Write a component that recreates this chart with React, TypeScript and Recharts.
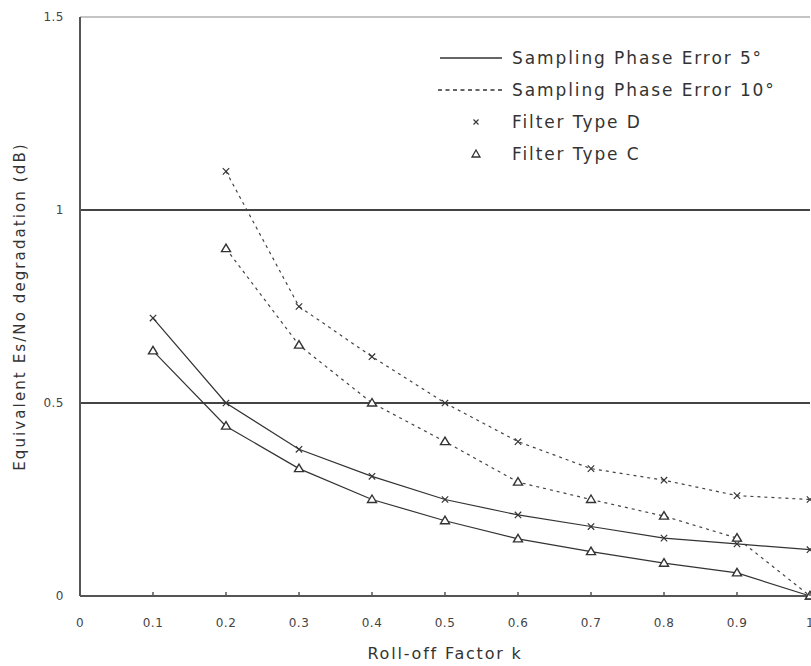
import React from 'react';
import { LineChart, Line, XAxis, YAxis, ReferenceLine, Legend } from 'recharts';

// Roll-off factor k (x values)
const rollOffFactors = [0.1, 0.2, 0.3, 0.4, 0.5, 0.6, 0.7, 0.8, 0.9, 1.0];
// Sampling phase error 5°, filter type D (solid, x markers)
const phaseErr5TypeD = [0.72, 0.5, 0.38, 0.31, 0.25, 0.21, 0.18, 0.15, 0.135, 0.12];
// Sampling phase error 5°, filter type C (solid, triangles)
const phaseErr5TypeC = [0.635, 0.44, 0.33, 0.25, 0.195, 0.148, 0.115, 0.085, 0.06, 0];
// Sampling phase error 10°, filter type D (dashed, x markers)
const phaseErr10TypeD = [null, 1.1, 0.75, 0.62, 0.5, 0.4, 0.33, 0.3, 0.26, 0.25];
// Sampling phase error 10°, filter type C (dashed, triangles)
const phaseErr10TypeC = [null, 0.9, 0.65, 0.5, 0.4, 0.295, 0.25, 0.207, 0.15, 0];

const xTicks = [0, 0.1, 0.2, 0.3, 0.4, 0.5, 0.6, 0.7, 0.8, 0.9, 1];
const yTicks = [0, 0.5, 1, 1.5];
const gridLevels = [0.5, 1];
const topLevel = 1.5;

const legendLabels = [
  'Sampling Phase Error 5°',
  'Sampling Phase Error 10°',
  'Filter Type D',
  'Filter Type C',
];

const data = rollOffFactors.map((k, i) => ({
  k,
  e5d: phaseErr5TypeD[i],
  e5c: phaseErr5TypeC[i],
  e10d: phaseErr10TypeD[i],
  e10c: phaseErr10TypeC[i],
}));

const INK = '#333';
const AXIS = '#555';
const FONT = '"DejaVu Sans", "Noto Sans", sans-serif';

function CrossDot(props: any) {
  const { cx, cy, index, dataKey } = props;
  const key = `${dataKey}-x-${index}`;
  if (cx == null || cy == null || Number.isNaN(cy)) return <g key={key} />;
  const s = 3.2;
  return (
    <path
      key={key}
      d={`M${cx - s},${cy - s}L${cx + s},${cy + s}M${cx - s},${cy + s}L${cx + s},${cy - s}`}
      stroke={INK}
      strokeWidth={1.2}
      fill="none"
    />
  );
}

function TriangleDot(props: any) {
  const { cx, cy, index, dataKey } = props;
  const key = `${dataKey}-t-${index}`;
  if (cx == null || cy == null || Number.isNaN(cy)) return <g key={key} />;
  return (
    <path
      key={key}
      d={`M${cx},${cy - 4.5}L${cx + 4.5},${cy + 3}L${cx - 4.5},${cy + 3}Z`}
      stroke={INK}
      strokeWidth={1.4}
      fill="#fff"
    />
  );
}

function XTick(props: any) {
  const { x, y, payload } = props;
  return (
    <g>
      <line x1={x} x2={x} y1={y} y2={y - 4} stroke={AXIS} strokeWidth={1.5} />
      <text
        x={x}
        y={y + 31}
        textAnchor="middle"
        fontSize={12}
        fill="#444"
        fontFamily={FONT}
        letterSpacing={0.5}
      >
        {String(payload.value)}
      </text>
    </g>
  );
}

function LegendContent() {
  const rows = legendLabels.map((label, i) => {
    let icon: React.ReactNode = null;
    if (i === 0) icon = <line x1={4} x2={66} y1={16} y2={16} stroke={INK} strokeWidth={1.3} />;
    if (i === 1)
      icon = (
        <line x1={2} x2={66} y1={16} y2={16} stroke={INK} strokeWidth={1.3} strokeDasharray="4 3.5" />
      );
    if (i === 2)
      icon = (
        <path d="M37.5,13.5L42.5,18.5M37.5,18.5L42.5,13.5" stroke={INK} strokeWidth={1.1} fill="none" />
      );
    if (i === 3) icon = <path d="M40,12L44,19L36,19Z" stroke={INK} strokeWidth={1.3} fill="#fff" />;
    return (
      <div key={label} style={{ display: 'flex', alignItems: 'center', height: 32 }}>
        <svg width={76} height={32} style={{ flex: 'none' }}>
          {icon}
        </svg>
        <span
          style={{
            fontFamily: FONT,
            fontSize: 17,
            letterSpacing: 1.9,
            color: '#333',
            whiteSpace: 'nowrap',
          }}
        >
          {label}
        </span>
      </div>
    );
  });
  return <div>{rows}</div>;
}

export default function App() {
  return (
    <div style={{ position: 'absolute', left: 0, top: 0, width: 811, height: 666, background: '#fff', fontFamily: FONT }}>
      <LineChart
        width={811}
        height={666}
        data={data}
        margin={{ top: 17, right: 1, bottom: 0, left: 20 }}
        style={{ fontFamily: FONT }}
      >
        <XAxis
          dataKey="k"
          type="number"
          domain={[0, 1]}
          ticks={xTicks}
          height={70}
          tickSize={0}
          tickMargin={0}
          tickLine={false}
          axisLine={{ stroke: AXIS, strokeWidth: 2 }}
          tick={<XTick />}
          interval={0}
          allowDecimals
          label={{
            value: 'Roll-off Factor k',
            position: 'insideBottom',
            offset: 7,
            style: { fontSize: 16, fill: '#333', letterSpacing: 1.8, fontFamily: FONT },
          }}
        />
        <YAxis
          type="number"
          domain={[0, 1.5]}
          ticks={yTicks}
          width={60}
          tickSize={0}
          tickMargin={16}
          tickLine={false}
          axisLine={{ stroke: AXIS, strokeWidth: 2 }}
          tick={{ fontSize: 12, fill: '#444', fontFamily: FONT, letterSpacing: 0.5 }}
          interval={0}
          label={{
            value: 'Equivalent Es/No degradation (dB)',
            angle: -90,
            position: 'insideLeft',
            offset: 0,
            style: { fontSize: 15, fill: '#333', letterSpacing: 2.1, textAnchor: 'middle', fontFamily: FONT },
          }}
        />
        <ReferenceLine y={topLevel} stroke="#c4c4c4" strokeWidth={2} ifOverflow="extendDomain" />
        {gridLevels.map((g) => (
          <ReferenceLine key={g} y={g} stroke="#444" strokeWidth={2} />
        ))}
        <Legend
          layout="vertical"
          align="center"
          verticalAlign="middle"
          content={<LegendContent />}
          wrapperStyle={{ left: 436, top: 42, width: 370, height: 130 }}
        />
        <Line
          dataKey="e5d"
          name="Sampling Phase Error 5° / Filter Type D"
          stroke={INK}
          strokeWidth={1.2}
          dot={(p: any) => <CrossDot {...p} key={`e5d-${p.index}`} />}
          isAnimationActive={false}
          activeDot={false}
        />
        <Line
          dataKey="e5c"
          name="Sampling Phase Error 5° / Filter Type C"
          stroke={INK}
          strokeWidth={1.2}
          dot={(p: any) => <TriangleDot {...p} key={`e5c-${p.index}`} />}
          isAnimationActive={false}
          activeDot={false}
        />
        <Line
          dataKey="e10d"
          name="Sampling Phase Error 10° / Filter Type D"
          stroke="#444"
          strokeWidth={1.2}
          strokeDasharray="3 4"
          dot={(p: any) => <CrossDot {...p} key={`e10d-${p.index}`} />}
          isAnimationActive={false}
          activeDot={false}
        />
        <Line
          dataKey="e10c"
          name="Sampling Phase Error 10° / Filter Type C"
          stroke="#444"
          strokeWidth={1.2}
          strokeDasharray="3 4"
          dot={(p: any) => <TriangleDot {...p} key={`e10c-${p.index}`} />}
          isAnimationActive={false}
          activeDot={false}
        />
      </LineChart>
    </div>
  );
}
